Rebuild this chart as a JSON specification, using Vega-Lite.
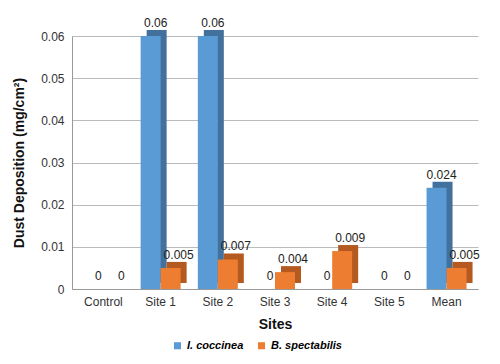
{
  "$schema": "https://vega.github.io/schema/vega-lite/v6.json",
  "autosize": {"type": "none"},
  "padding": {"left": 72, "top": 36, "right": 22, "bottom": 75},
  "width": 406,
  "height": 253,
  "background": "white",
  "data": {
    "values": [
      {"site": "Control", "species": "I. coccinea", "value": 0},
      {"site": "Control", "species": "B. spectabilis", "value": 0},
      {"site": "Site 1", "species": "I. coccinea", "value": 0.06},
      {"site": "Site 1", "species": "B. spectabilis", "value": 0.005},
      {"site": "Site 2", "species": "I. coccinea", "value": 0.06},
      {"site": "Site 2", "species": "B. spectabilis", "value": 0.007},
      {"site": "Site 3", "species": "I. coccinea", "value": 0},
      {"site": "Site 3", "species": "B. spectabilis", "value": 0.004},
      {"site": "Site 4", "species": "I. coccinea", "value": 0},
      {"site": "Site 4", "species": "B. spectabilis", "value": 0.009},
      {"site": "Site 5", "species": "I. coccinea", "value": 0},
      {"site": "Site 5", "species": "B. spectabilis", "value": 0},
      {"site": "Mean", "species": "I. coccinea", "value": 0.024},
      {"site": "Mean", "species": "B. spectabilis", "value": 0.005}
    ]
  },
  "encoding": {
    "x": {
      "field": "site", "type": "nominal", "sort": null,
      "scale": {"paddingInner": 0.3, "paddingOuter": 0.2},
      "axis": {"title": "Sites", "labelAngle": 0, "ticks": false, "labelPadding": 7,
               "titleFontWeight": "bold", "titleFontSize": 14, "titlePadding": 10}
    },
    "y": {
      "field": "value", "type": "quantitative",
      "scale": {"domain": [0, 0.06]},
      "axis": {"title": "Dust Deposition (mg/cm²)", "values": [0, 0.01, 0.02, 0.03, 0.04, 0.05, 0.06],
               "format": "~g", "ticks": false, "labelPadding": 8, "titleFontWeight": "bold",
               "titleFontSize": 14, "titlePadding": 14}
    }
  },
  "layer": [
    {
      "transform": [{"filter": "datum.species === 'I. coccinea'"}],
      "mark": {"type": "bar", "width": 20, "xOffset": -4, "yOffset": -6, "color": "#41719c"}
    },
    {
      "transform": [{"filter": "datum.species === 'I. coccinea'"}],
      "mark": {"type": "bar", "width": 20, "xOffset": -10},
      "encoding": {
        "fill": {
          "field": "species", "type": "nominal",
          "scale": {"domain": ["I. coccinea", "B. spectabilis"], "range": ["#5b9bd5", "#ed7d31"]},
          "legend": {"title": null, "orient": "none", "legendX": 100, "legendY": 304, "direction": "horizontal",
                     "symbolType": "square", "symbolSize": 50, "labelFontStyle": "italic",
                     "labelFontWeight": "bold", "labelFontSize": 11, "columnPadding": 12, "symbolOffset": 0}
        }
      }
    },
    {
      "transform": [{"filter": "datum.species === 'B. spectabilis'"}],
      "mark": {"type": "bar", "width": 20, "xOffset": 16, "yOffset": -6, "color": "#b4591f"}
    },
    {
      "transform": [{"filter": "datum.species === 'B. spectabilis'"}],
      "mark": {"type": "bar", "width": 20, "xOffset": 10},
      "encoding": {
        "fill": {"field": "species", "type": "nominal"}
      }
    },
    {
      "transform": [{"filter": "datum.species === 'I. coccinea'"}],
      "mark": {"type": "text", "dy": -13, "xOffset": -5, "fontSize": 12, "font": "Liberation Sans", "color": "#222"},
      "encoding": {"text": {"field": "value", "type": "quantitative", "format": "~g"}}
    },
    {
      "transform": [{"filter": "datum.species === 'B. spectabilis'"}],
      "mark": {"type": "text", "dy": -13, "xOffset": 18, "fontSize": 12, "font": "Liberation Sans", "color": "#222"},
      "encoding": {"text": {"field": "value", "type": "quantitative", "format": "~g"}}
    }
  ],
  "config": {
    "font": "Liberation Sans",
    "view": {"stroke": null},
    "axis": {"labelFont": "Liberation Sans", "labelFontSize": 12, "labelColor": "#333",
             "titleFont": "Liberation Sans", "titleColor": "#111", "domainColor": "#999",
             "gridColor": "#bbb", "gridWidth": 1},
    "axisX": {"grid": false},
    "legend": {"labelFont": "Liberation Sans"}
  }
}
